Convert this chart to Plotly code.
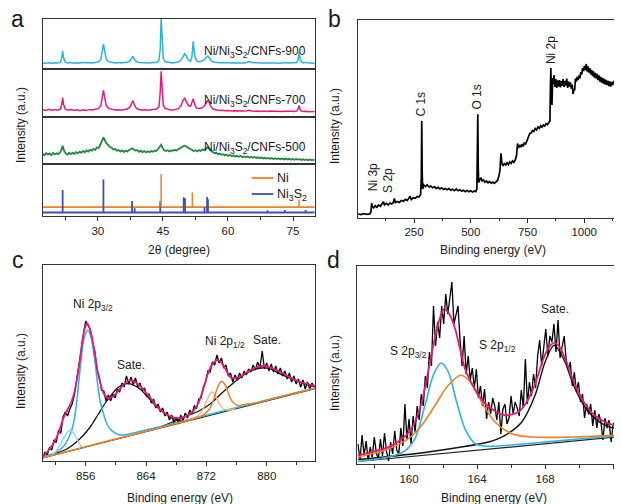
import plotly.graph_objects as go

# The page body has an 8 px margin, so the figure is 8 px smaller and every
# reference pixel position is shifted by that margin.
OFF = 8
W, H = 622 - OFF, 504 - OFF
def X(px): return (px - OFF) / W
def Y(py): return 1 - (py - OFF) / H

FONT = "Liberation Sans, Arial, sans-serif"
FRAME = "#333333"
TXT = "#1a1a1a"
CYAN = "#2DB3E2"
PINK = "#E8197D"
GREEN = "#1F8A3E"
ORANGE = "#F28022"
BLUE = "#3E4FB5"
LCYAN = "#94D3EE"
LORANGE = "#F6B77D"

# ---------------- panel a : XRD ----------------
two_theta = [
    17.3, 18.0, 18.7, 19.4, 20.1, 20.8, 21.4, 21.7, 21.9, 22.1,
    22.5, 23.1, 23.8, 24.5, 25.2, 25.9, 26.6, 27.3, 28.0, 28.7,
    29.4, 30.1, 30.7, 31.0, 31.3, 31.6, 32.0, 32.6, 33.3, 34.0,
    34.7, 35.4, 36.1, 36.8, 37.4, 37.8, 38.1, 38.4, 38.9, 39.5,
    40.2, 40.9, 41.6, 42.3, 43.0, 43.6, 44.1, 44.4, 44.6, 44.8,
    45.1, 45.5, 46.0, 46.6, 47.2, 47.9, 48.6, 49.2, 49.6, 50.0,
    50.4, 50.9, 51.4, 51.7, 52.0, 52.3, 52.7, 53.2, 53.7, 54.2,
    54.7, 55.1, 55.4, 55.7, 56.1, 56.6, 57.3, 58.0, 58.7, 59.4,
    60.1, 60.8, 61.5, 62.2, 62.9, 63.6, 64.3, 64.9, 65.5, 66.2,
    66.9, 67.6, 68.3, 69.0, 69.7, 70.4, 71.1, 71.8, 72.5, 73.2,
    73.9, 74.6, 75.3, 75.9, 76.2, 76.4, 76.6, 76.9, 77.4, 77.9,
    78.5, 79.2, 80.0]
xrd_900 = [
    5.6, 5.2, 5.8, 5.3, 5.7, 5.4, 6.4, 10.5, 17.3, 11.0,
    6.3, 5.5, 5.9, 5.3, 5.8, 5.4, 5.9, 5.5, 5.8, 5.6,
    6.0, 6.5, 9.0, 16.5, 24.7, 17.0, 9.0, 6.8, 6.0, 5.6,
    5.9, 5.5, 5.9, 6.2, 7.5, 10.5, 12.3, 9.5, 6.8, 6.0,
    5.7, 5.9, 5.5, 5.8, 5.7, 6.3, 8.0, 20.0, 50.0, 30.0,
    10.0, 7.0, 6.2, 5.9, 5.6, 6.0, 6.5, 8.5, 12.5, 14.7,
    12.5, 8.5, 7.2, 12.0, 27.3, 14.0, 7.8, 6.8, 7.0, 7.8,
    9.2, 11.8, 12.3, 10.8, 8.0, 6.5, 6.0, 5.7, 5.9, 5.5,
    5.8, 5.4, 5.7, 5.5, 5.8, 5.6, 6.0, 7.0, 6.0, 5.5,
    5.7, 5.4, 5.6, 5.9, 5.5, 5.4, 5.7, 5.3, 5.5, 5.9,
    5.4, 5.5, 5.2, 6.0, 10.0, 15.7, 10.5, 6.5, 5.6, 6.2,
    5.4, 5.6, 5.3]
xrd_700 = [
    6.5, 5.6, 6.8, 5.9, 6.6, 6.0, 7.2, 12.0, 18.7, 12.0,
    7.0, 6.2, 6.6, 5.8, 6.4, 5.5, 6.3, 5.7, 6.5, 6.1,
    6.8, 7.3, 10.5, 19.0, 26.3, 18.5, 10.0, 7.5, 6.6, 6.1,
    6.5, 5.9, 6.6, 7.2, 9.0, 13.5, 15.7, 12.0, 7.8, 6.6,
    6.1, 6.5, 5.9, 6.4, 6.6, 7.2, 9.5, 25.0, 45.7, 28.0,
    11.0, 7.8, 6.8, 6.3, 6.0, 6.6, 7.5, 10.5, 15.5, 18.0,
    15.0, 10.5, 10.0, 14.5, 17.7, 12.5, 8.5, 7.6, 7.8, 9.0,
    11.0, 14.5, 15.7, 13.5, 9.5, 7.2, 6.2, 5.6, 5.9, 5.3,
    5.6, 5.0, 5.4, 5.1, 5.5, 5.0, 5.4, 5.9, 5.2, 4.8,
    5.2, 4.7, 5.1, 4.6, 5.0, 4.8, 4.5, 5.0, 4.6, 4.9,
    4.5, 4.8, 4.6, 5.2, 7.5, 10.7, 7.0, 5.0, 4.6, 4.9,
    4.4, 4.7, 4.5]
two_theta_500 = [
    17.3, 17.7, 18.1, 18.5, 18.9, 19.3, 19.7, 20.1, 20.5, 20.9,
    21.3, 21.6, 21.9, 22.2, 22.6, 23.0, 23.4, 23.8, 24.2, 24.6,
    25.0, 25.4, 25.8, 26.2, 26.6, 27.0, 27.4, 27.8, 28.2, 28.6,
    29.0, 29.4, 29.8, 30.2, 30.6, 31.0, 31.3, 31.6, 32.0, 32.4,
    32.8, 33.2, 33.6, 34.0, 34.4, 34.8, 35.2, 35.6, 36.0, 36.4,
    36.8, 37.2, 37.6, 38.0, 38.3, 38.7, 39.1, 39.5, 39.9, 40.3,
    40.7, 41.1, 41.5, 41.9, 42.3, 42.7, 43.1, 43.5, 43.9, 44.3,
    44.6, 44.9, 45.3, 45.7, 46.1, 46.5, 46.9, 47.3, 47.7, 48.1,
    48.5, 48.9, 49.3, 49.7, 50.1, 50.5, 50.9, 51.3, 51.7, 52.1,
    52.5, 52.9, 53.3, 53.7, 54.1, 54.5, 54.9, 55.3, 55.7, 56.1,
    56.5, 56.9, 57.3, 57.7, 58.1, 58.5, 58.9, 59.3, 59.7, 60.1,
    60.5, 60.9, 61.3, 61.7, 62.1, 62.5, 62.9, 63.3, 63.7, 64.1,
    64.5, 64.9, 65.3, 65.7, 66.1, 66.5, 66.9, 67.3, 67.7, 68.1,
    68.5, 68.9, 69.3, 69.7, 70.1, 70.5, 70.9, 71.3, 71.7, 72.1,
    72.5, 72.9, 73.3, 73.7, 74.1, 74.5, 74.9, 75.3, 75.7, 76.1,
    76.5, 76.9, 77.3, 77.7, 78.1, 78.5, 78.9, 79.3, 79.7, 80.0]
xrd_500 = [
    10.2, 8.8, 11.0, 9.4, 10.6, 8.9, 11.2, 9.6, 10.8, 9.9,
    11.5, 14.0, 18.3, 13.5, 10.6, 9.5, 11.3, 9.8, 11.1, 10.2,
    11.8, 10.6, 12.3, 11.2, 13.0, 11.8, 13.6, 12.4, 14.2, 13.4,
    15.0, 14.2, 16.5, 16.0, 19.5, 23.5, 26.7, 24.0, 20.5, 19.0,
    17.0, 16.2, 14.5, 15.2, 13.3, 14.0, 12.4, 13.6, 12.0, 13.2,
    12.6, 14.0, 14.8, 15.7, 14.6, 13.5, 13.8, 12.2, 13.3, 11.9,
    12.9, 11.6, 12.8, 11.8, 13.0, 12.2, 13.4, 13.0, 15.0, 17.5,
    19.3, 16.5, 13.8, 13.0, 13.8, 12.6, 13.6, 13.2, 14.2, 13.5,
    14.8, 15.4, 16.8, 17.8, 18.3, 17.2, 16.4, 15.0, 14.2, 13.0,
    13.8, 12.6, 13.9, 13.0, 14.4, 14.0, 15.2, 16.7, 15.0, 13.2,
    12.0, 10.9, 11.2, 9.8, 10.4, 9.2, 9.8, 8.7, 9.3, 8.3,
    8.9, 7.8, 8.6, 7.5, 8.2, 7.2, 8.0, 7.0, 7.6, 6.8,
    7.5, 6.5, 7.3, 6.3, 7.0, 6.1, 6.7, 5.8, 6.5, 5.6,
    6.3, 5.4, 6.1, 5.2, 5.9, 5.0, 5.8, 4.9, 5.6, 4.7,
    5.5, 4.6, 5.4, 4.5, 5.2, 4.3, 5.1, 4.2, 5.0, 4.4,
    4.9, 4.1, 4.8, 3.9, 4.6, 3.8, 4.5, 3.7, 4.3, 3.6]
ni_pos = [44.6, 51.8, 76.4]
ni_int = [42.0, 23.5, 16.5]
ni_base = 8.9
ni3s2_pos = [21.9, 31.3, 37.9, 38.5, 44.4, 49.8, 50.1, 54.6, 55.2, 55.4, 69.1, 73.1, 77.9]
ni3s2_int = [26.0, 36.5, 15.0, 7.7, 14.7, 18.7, 17.7, 8.7, 19.0, 16.7, 5.7, 6.0, 6.0]
ni3s2_base = 3.6

# ---------------- panel b : XPS survey ----------------
survey_be = [
    3, 15, 28, 42, 55, 60, 63, 67, 72, 79,
    86, 94, 102, 110, 115, 120, 128, 136, 144, 152,
    159, 163, 168, 176, 185, 194, 203, 212, 220, 228,
    232, 238, 246, 255, 264, 272, 279, 282, 284, 286,
    288, 293, 300, 308, 316, 324, 332, 340, 348, 356,
    364, 372, 380, 388, 396, 404, 412, 420, 428, 436,
    444, 452, 460, 468, 476, 484, 492, 500, 508, 516,
    522, 527, 529, 531, 533, 535, 540, 545, 550, 556,
    562, 569, 576, 583, 590, 597, 604, 611, 618, 624,
    629, 633, 637, 642, 648, 654, 660, 666, 672, 678,
    684, 690, 697, 702, 706, 711, 716, 721, 726, 731,
    736, 742, 748, 754, 760, 766, 772, 778, 784, 790,
    796, 802, 808, 814, 820, 826, 832, 838, 844, 849,
    851, 853, 855, 858, 861, 864, 867, 871, 875, 879,
    883, 887, 891, 895, 899, 903, 907, 911, 915, 919,
    923, 927, 931, 935, 939, 943, 947, 951, 955, 958,
    961, 965, 969, 973, 977, 981, 985, 989, 993, 997,
    1001, 1005, 1009, 1013, 1017, 1021, 1025, 1029, 1033, 1037,
    1041, 1045, 1049, 1053, 1057, 1061, 1065, 1069, 1073, 1077,
    1081, 1085, 1089, 1093, 1097, 1101, 1105, 1109, 1113, 1117,
    1121, 1126, 1131, 1136, 1141, 1146, 1151, 1156, 1161, 1166]
survey_int = [
    4.0, 3.4, 4.3, 3.6, 4.1, 6.0, 14.8, 11.0, 10.2, 12.2,
    10.8, 13.0, 11.8, 14.2, 16.2, 13.2, 14.6, 13.0, 15.0, 14.0,
    15.6, 19.5, 15.4, 16.6, 15.6, 17.6, 16.8, 18.6, 17.6, 20.0,
    21.8, 18.4, 20.2, 19.6, 21.6, 21.0, 23.5, 40.0, 97.0, 45.0,
    29.0, 33.0, 31.4, 33.2, 31.0, 32.0, 30.2, 31.2, 29.6, 30.6,
    29.0, 30.2, 28.6, 29.6, 28.2, 29.4, 27.8, 28.8, 27.4, 29.0,
    27.2, 28.2, 26.8, 27.8, 26.4, 27.6, 26.2, 27.2, 26.0, 27.0,
    26.4, 29.0, 80.0, 103.7, 50.0, 35.5, 38.5, 40.2, 37.0, 38.0,
    35.8, 37.0, 35.2, 36.4, 34.8, 36.0, 34.6, 35.8, 37.5, 42.0,
    48.0, 64.7, 55.0, 52.0, 54.8, 52.6, 55.2, 53.4, 56.0, 54.6,
    57.0, 55.6, 58.5, 63.0, 74.5, 70.0, 73.0, 70.8, 74.0, 71.6,
    75.0, 74.0, 77.5, 80.0, 84.5, 85.0, 87.5, 86.5, 89.5, 88.0,
    91.0, 89.6, 92.2, 90.8, 93.0, 92.0, 94.4, 93.2, 95.2, 97.0,
    130.0, 150.0, 128.0, 113.0, 140.0, 134.0, 143.0, 131.0, 139.0, 130.0,
    137.5, 131.5, 138.0, 130.5, 137.0, 132.0, 139.0, 131.0, 137.0, 132.5,
    139.5, 130.0, 136.5, 131.5, 135.5, 129.5, 133.5, 124.0, 129.0, 127.5,
    139.5, 136.5, 141.0, 138.0, 142.5, 139.5, 146.0, 143.5, 150.0, 147.0,
    152.0, 148.0, 154.0, 146.5, 151.5, 145.5, 150.0, 143.5, 148.0, 142.0,
    146.5, 140.5, 145.0, 139.5, 144.0, 138.0, 142.5, 136.5, 141.0, 135.5,
    140.0, 134.5, 139.0, 133.5, 138.0, 133.0, 137.0, 132.0, 136.5, 131.5,
    136.0, 133.0, 137.0, 134.0, 138.5, 135.0, 139.0, 135.5, 139.5, 137.0]
survey_labels = ["Ni 3p", "S 2p", "C 1s", "O 1s", "Ni 2p"]
survey_label_be = [68, 135, 279, 528, 854]
survey_label_y = [40.5, 38.0, 114.0, 120.5, 168.0]

# ---------------- panel c : Ni 2p ----------------
ni2p_be = [
    850.3, 850.6, 850.9, 851.2, 851.5, 851.8, 852.1, 852.4, 852.7, 853.0,
    853.3, 853.6, 853.9, 854.2, 854.5, 854.8, 855.1, 855.4, 855.7, 856.0,
    856.3, 856.6, 856.9, 857.2, 857.5, 857.8, 858.1, 858.4, 858.7, 859.0,
    859.3, 859.6, 859.9, 860.2, 860.5, 860.8, 861.1, 861.4, 861.7, 862.0,
    862.3, 862.6, 862.9, 863.2, 863.5, 863.8, 864.1, 864.4, 864.7, 865.0,
    865.3, 865.6, 865.9, 866.2, 866.5, 866.8, 867.1, 867.4, 867.7, 868.0,
    868.3, 868.6, 868.9, 869.2, 869.5, 869.8, 870.1, 870.4, 870.7, 871.0,
    871.3, 871.6, 871.9, 872.2, 872.5, 872.8, 873.1, 873.4, 873.7, 874.0,
    874.3, 874.6, 874.9, 875.2, 875.5, 875.8, 876.1, 876.4, 876.7, 877.0,
    877.3, 877.6, 877.9, 878.2, 878.5, 878.8, 879.1, 879.4, 879.7, 880.0,
    880.3, 880.6, 880.9, 881.2, 881.5, 881.8, 882.1, 882.4, 882.7, 883.0,
    883.3, 883.6, 883.9, 884.2, 884.5, 884.8, 885.1, 885.4, 885.7, 886.0,
    886.3]
ni2p_int = [
    3.5, 8.5, 6.0, 13.5, 11.0, 21.0, 18.5, 31.0, 27.5, 44.0,
    49.0, 45.0, 52.0, 57.0, 66.0, 80.0, 93.0, 111.0, 127.0, 140.0,
    136.0, 132.0, 118.0, 110.0, 90.0, 84.0, 71.0, 70.0, 60.0, 66.0,
    60.0, 67.0, 63.0, 72.0, 69.0, 78.0, 74.0, 85.0, 77.0, 84.0,
    76.0, 83.0, 74.0, 78.0, 70.0, 73.0, 64.0, 67.0, 58.0, 62.0,
    53.0, 57.0, 49.0, 53.0, 45.0, 49.0, 41.0, 46.0, 38.0, 44.0,
    37.0, 46.0, 40.0, 48.0, 43.0, 51.0, 47.0, 55.0, 53.0, 62.0,
    63.0, 74.0, 79.0, 90.0, 89.0, 99.0, 96.0, 106.0, 98.0, 103.0,
    93.0, 96.0, 85.0, 88.0, 79.0, 86.0, 81.0, 88.0, 83.0, 90.0,
    86.0, 92.0, 89.0, 96.0, 91.0, 99.0, 93.0, 110.0, 92.0, 98.0,
    90.0, 97.0, 89.0, 95.0, 87.0, 93.0, 85.0, 90.0, 82.0, 88.0,
    79.0, 85.0, 77.0, 82.0, 74.0, 81.0, 72.0, 79.0, 72.0, 78.0,
    74.0]
ni2p_fit_be = [
    850.3, 851.0, 851.7, 852.4, 853.0, 853.5, 854.1, 854.6, 855.0, 855.3,
    855.6, 855.9, 856.2, 856.5, 856.8, 857.0, 857.3, 857.6, 858.0, 858.3,
    858.7, 859.0, 859.4, 859.8, 860.3, 860.9, 861.4, 861.8, 862.2, 862.7,
    863.4, 864.1, 864.8, 865.4, 866.1, 866.8, 867.5, 868.1, 868.8, 869.4,
    870.0, 870.5, 871.0, 871.6, 872.1, 872.7, 873.2, 873.6, 874.0, 874.5,
    874.9, 875.3, 875.8, 876.4, 877.1, 877.8, 878.6, 879.3, 880.1, 880.9,
    881.8, 882.6, 883.5, 884.4, 885.4, 886.4]
ni2p_fit = [
    4.0, 10.0, 17.3, 28.0, 42.0, 50.0, 59.0, 72.0, 89.0, 105.0,
    122.0, 133.0, 137.5, 133.0, 125.0, 117.0, 103.0, 89.0, 76.0, 69.0,
    64.5, 63.0, 63.5, 65.7, 70.0, 75.7, 79.0, 80.7, 80.3, 78.3,
    73.5, 67.3, 61.0, 55.0, 50.0, 46.3, 44.0, 43.0, 43.5, 45.0,
    48.0, 52.3, 59.0, 72.3, 85.0, 95.7, 100.0, 100.7, 98.0, 92.3,
    87.0, 83.0, 83.0, 84.0, 87.5, 90.7, 93.5, 95.0, 94.5, 92.3,
    89.0, 85.7, 82.0, 79.0, 77.0, 75.0]
ni2p_bg_be = [850.3, 886.4]
ni2p_bg = [3.0, 72.3]
ni2p32_be = [850.3, 852.0, 853.0, 853.9, 854.5, 854.8, 855.1, 855.4, 855.8, 856.3,
             856.7, 857.0, 857.3, 857.6, 857.9, 858.3, 858.7, 859.2, 860.0, 860.5,
             861.5, 863.0, 866.0, 870.0, 875.0, 880.0, 886.4]
ni2p32 = [4.0, 8.5, 14.0, 25.7, 42.0, 59.0, 80.0, 102.0, 123.0, 130.7,
          124.0, 112.0, 95.0, 75.7, 60.0, 49.0, 39.0, 32.3, 27.5, 26.0,
          26.5, 29.2, 34.6, 42.0, 51.5, 61.0, 73.0]
ni2p32b_be = [851.5, 852.2, 852.8, 853.3, 853.9, 854.5, 855.0, 855.5, 855.9]
ni2p32b = [5.8, 11.0, 19.0, 26.0, 30.7, 27.0, 19.5, 14.0, 13.0]
ni2p_sat1_be = [850.3, 852.0, 853.5, 855.0, 856.5, 857.6, 858.7, 859.4, 860.1, 860.8,
                861.6, 862.3, 863.2, 864.1, 865.0, 865.9, 866.8, 867.6, 868.5, 869.5]
ni2p_sat1 = [3.6, 7.5, 12.0, 20.5, 33.0, 46.0, 59.0, 66.0, 72.3, 76.0,
             77.3, 76.0, 72.0, 65.0, 57.5, 51.0, 46.0, 42.5, 40.3, 40.5]
ni2p_sat2_be = [864.0, 866.0, 868.0, 869.5, 871.0, 872.5, 874.2, 875.5, 876.9, 878.0,
                879.3, 880.5, 881.7, 883.0, 884.4, 885.5, 886.4]
ni2p_sat2 = [29.5, 34.5, 40.5, 45.5, 50.0, 57.0, 69.0, 77.5, 85.7, 90.5,
             93.0, 92.0, 87.3, 83.0, 79.0, 76.0, 74.2]
ni2p12a_be = [869.6, 870.4, 871.1, 871.7, 872.2, 872.7, 873.2, 873.7, 874.3, 875.0, 875.8]
ni2p12a = [40.5, 43.0, 47.0, 54.0, 63.0, 69.0, 65.0, 57.5, 52.0, 51.0, 52.0]
ni2p12b_be = [850.3, 858.0, 866.0, 870.0, 871.6, 872.4, 873.0, 873.5, 874.0, 874.5,
              875.1, 875.6, 876.2, 877.0, 878.5, 881.0, 886.4]
ni2p12b = [3.3, 18.2, 33.6, 41.5, 46.0, 52.0, 62.0, 74.0, 79.7, 76.0,
           64.0, 58.0, 55.5, 56.5, 58.0, 62.8, 72.8]

# ---------------- panel d : S 2p ----------------
s2p_be = [
    157.00, 157.12, 157.24, 157.36, 157.48, 157.60, 157.72, 157.84, 157.96, 158.08,
    158.20, 158.32, 158.44, 158.56, 158.68, 158.80, 158.92, 159.04, 159.16, 159.28,
    159.40, 159.52, 159.64, 159.76, 159.88, 160.00, 160.12, 160.24, 160.36, 160.48,
    160.60, 160.72, 160.84, 160.96, 161.08, 161.20, 161.32, 161.44, 161.56, 161.68,
    161.80, 161.92, 162.04, 162.16, 162.28, 162.40, 162.52, 162.64, 162.76, 162.88,
    163.00, 163.12, 163.24, 163.36, 163.48, 163.60, 163.72, 163.84, 163.96, 164.08,
    164.20, 164.32, 164.44, 164.56, 164.68, 164.80, 164.92, 165.04, 165.16, 165.28,
    165.40, 165.52, 165.64, 165.76, 165.88, 166.00, 166.12, 166.24, 166.36, 166.48,
    166.60, 166.72, 166.84, 166.96, 167.08, 167.20, 167.32, 167.44, 167.56, 167.68,
    167.80, 167.92, 168.04, 168.16, 168.28, 168.40, 168.52, 168.64, 168.76, 168.88,
    169.00, 169.12, 169.24, 169.36, 169.48, 169.60, 169.72, 169.84, 169.96, 170.08,
    170.20, 170.32, 170.44, 170.56, 170.68, 170.80, 170.92, 171.04, 171.16, 171.28,
    171.40, 171.52, 171.64, 171.76, 171.88, 172.00, 172.12, 172.24, 172.36, 172.48]
s2p_int = [
    20, 4, 29, 9, 23, 3, 17, 7, 27, 11,
    5, 25, 8, 31, 12, 3, 22, 10, 33, 14,
    10, 36, 18, 60, 24, 45, 20, 48, 32, 58,
    44, 70, 58, 88, 76, 112, 98, 158, 118, 142,
    126, 158, 140, 170, 150, 164, 182, 140, 150, 158,
    124, 98, 128, 90, 108, 84, 96, 76, 95, 66,
    78, 58, 75, 45, 62, 50, 66, 58, 44, 62,
    30, 55, 60, 40, 46, 68, 50, 62, 56, 48,
    74, 56, 105, 60, 82, 68, 90, 76, 108, 124,
    98, 116, 135, 108, 128, 122, 140, 112, 144, 106,
    116, 128, 104, 94, 102, 78, 92, 72, 82, 62,
    70, 46, 60, 50, 60, 38, 54, 36, 50, 42,
    24, 46, 36, 44, 22, 40, 42, 21, 34, 36]
s2p_fit_be = [157.0, 158.0, 158.8, 159.5, 160.0, 160.4, 160.75, 161.1, 161.43, 161.8,
              162.08, 162.4, 162.71, 163.0, 163.29, 163.7, 164.08, 164.5, 164.86, 165.25,
              165.65, 166.0, 166.43, 166.8, 167.22, 167.55, 167.9, 168.2, 168.53, 168.85,
              169.18, 169.5, 169.86, 170.2, 170.55, 171.0, 171.53, 172.0, 172.5]
s2p_fit = [8.7, 13.0, 17.0, 24.0, 32.0, 44.0, 62.0, 90.0, 118.7, 145.0,
           155.3, 149.0, 135.3, 115.0, 95.3, 80.0, 68.7, 60.0, 55.3, 51.0,
           48.7, 49.3, 52.0, 59.0, 72.0, 87.0, 105.3, 116.0, 121.3, 117.0,
           105.3, 90.0, 75.3, 64.0, 55.3, 47.5, 42.0, 39.0, 37.0]
s2p_bg_be = [157.0, 172.5]
s2p_bg = [2.5, 27.5]
s2p32_be = [157.0, 158.8, 159.8, 160.35, 160.94, 161.43, 161.88, 162.31, 162.8, 163.29,
            163.88, 164.67, 166.0, 168.0, 170.0, 172.5]
s2p32 = [2.5, 7.0, 13.7, 25.3, 58.7, 88.7, 101.0, 92.0, 62.0, 35.3,
         20.3, 17.7, 19.0, 22.0, 25.0, 28.5]
s2p12_be = [157.0, 158.8, 159.96, 160.75, 161.53, 162.31, 163.06, 163.69, 164.27, 165.06,
            166.04, 167.22, 169.6, 172.5]
s2p12 = [7.0, 15.3, 25.3, 38.7, 58.7, 78.7, 88.7, 80.3, 62.0, 42.0,
         30.3, 27.0, 27.0, 29.0]
s2p_sat_be = [157.0, 160.7, 162.7, 164.67, 165.65, 166.63, 167.41, 168.0, 168.53, 169.08,
              169.76, 170.55, 171.53, 172.5]
s2p_sat = [4.5, 11.0, 16.0, 22.0, 28.7, 42.0, 68.7, 102.0, 118.7, 105.3,
           75.3, 52.0, 38.7, 34.5]

for a_, b_ in [(two_theta, xrd_900), (two_theta, xrd_700), (two_theta_500, xrd_500),
               (survey_be, survey_int), (ni2p_be, ni2p_int), (s2p_be, s2p_int),
               (ni2p_fit_be, ni2p_fit), (s2p_fit_be, s2p_fit)]:
    assert len(a_) == len(b_), (len(a_), len(b_))

# ---------------- figure ----------------
fig = go.Figure()

def line(x, y, ax, color, width=1.4, spline=False):
    fig.add_trace(go.Scatter(
        x=x, y=y, xaxis="x" + ax, yaxis="y" + ax, mode="lines",
        line=dict(color=color, width=width, shape="spline" if spline else "linear",
                  smoothing=0.9 if spline else None),
        hoverinfo="skip", showlegend=False))

# panel a
line(two_theta, xrd_900, "", CYAN, 1.5)
line(two_theta, xrd_700, "2", PINK, 1.5)
line(two_theta_500, xrd_500, "3", GREEN, 1.8)
line([two_theta[0], two_theta[-1]], [ni_base, ni_base], "4", ORANGE, 1.8)
line([two_theta[0], two_theta[-1]], [ni3s2_base, ni3s2_base], "4", BLUE, 2.0)
sx, sy = [], []
for p, h in zip(ni3s2_pos, ni3s2_int):
    sx += [p, p, None]; sy += [ni3s2_base, h, None]
line(sx, sy, "4", BLUE, 1.8)
sx, sy = [], []
for p, h in zip(ni_pos, ni_int):
    sx += [p, p, None]; sy += [ni_base, h, None]
line(sx, sy, "4", ORANGE, 1.5)

# panel b
line(survey_be, survey_int, "5", "#000000", 1.7)

# panel c
line(ni2p_be, ni2p_int, "6", "#000000", 1.3)
line(ni2p_bg_be, ni2p_bg, "6", "#222222", 1.2)
line(ni2p_sat1_be, ni2p_sat1, "6", "#111111", 1.3, True)
line(ni2p_sat2_be, ni2p_sat2, "6", "#111111", 1.3, True)
line(ni2p32_be, ni2p32, "6", CYAN, 1.5, True)
line(ni2p32b_be, ni2p32b, "6", LCYAN, 1.4, True)
line(ni2p12a_be, ni2p12a, "6", LORANGE, 1.4, True)
line(ni2p12b_be, ni2p12b, "6", ORANGE, 1.5, True)
line(ni2p_fit_be, ni2p_fit, "6", PINK, 1.8, True)

# panel d
line(s2p_be, s2p_int, "7", "#000000", 1.3)
line(s2p_bg_be, s2p_bg, "7", "#222222", 1.2)
line(s2p_sat_be, s2p_sat, "7", "#111111", 1.4, True)
line(s2p32_be, s2p32, "7", CYAN, 1.6, True)
line(s2p12_be, s2p12, "7", ORANGE, 1.6, True)
line(s2p_fit_be, s2p_fit, "7", PINK, 1.8, True)

# ---------------- layout ----------------
base_ax = dict(showgrid=False, zeroline=False, showline=True, linecolor=FRAME,
               linewidth=1.3, mirror=True, fixedrange=True)
tickfont = dict(family=FONT, size=11.5, color=TXT)

def xax(domain, rng, anchor, dtick=None, minor=None, labels=False):
    d = dict(base_ax, domain=domain, range=rng, anchor=anchor)
    if labels:
        d.update(ticks="outside", ticklen=4, tickwidth=1.2, tickcolor=FRAME,
                 tick0=0, dtick=dtick, tickfont=tickfont,
                 minor=dict(ticks="outside", ticklen=2.5, tickwidth=1, tickcolor=FRAME,
                            tick0=0, dtick=minor))
    else:
        d.update(ticks="", showticklabels=False)
    return d

def yax(domain, rng, anchor, mirror=True):
    return dict(base_ax, domain=domain, range=rng, anchor=anchor, ticks="",
                showticklabels=False, mirror=mirror)

ax_a = [X(42.7), X(314.7)]
layout = dict(
    width=W, height=H, margin=dict(l=0, r=0, t=0, b=0),
    paper_bgcolor="white", plot_bgcolor="white", showlegend=False,
    font=dict(family=FONT, color=TXT),
    xaxis=xax(ax_a, [17.3, 80], "y"),
    yaxis=yax([Y(68.5), Y(19)], [0, 49.5], "x"),
    xaxis2=xax(ax_a, [17.3, 80], "y2"),
    yaxis2=yax([Y(116.5), Y(68.5)], [-0.5, 48.5], "x2"),
    xaxis3=xax(ax_a, [17.3, 80], "y3"),
    yaxis3=yax([Y(164), Y(116.5)], [0, 47.5], "x3"),
    xaxis4=xax(ax_a, [17.3, 80], "y4", 15, 7.5, True),
    yaxis4=yax([Y(216), Y(164)], [0, 52], "x4"),
    xaxis5=xax([X(358), 1.0], [3, 1166.6], "y5", 250, 125, True),
    yaxis5=yax([Y(217.5), Y(20)], [0.5, 198], "x5", mirror=False),
    xaxis6=xax([X(42.7), X(315)], [850.3, 886.4], "y6", 8, 4, True),
    yaxis6=yax([Y(461.3), Y(265.3)], [-0.3, 195.7], "x6"),
    xaxis7=xax([X(357.3), 1.0], [156.96, 172.52], "y7", 4, 2, True),
    yaxis7=yax([Y(464), Y(266)], [0, 198], "x7", mirror=False),
)

ann = []
def txt(px, py, s, size=12, xanchor="center", angle=0, yanchor="middle"):
    ann.append(dict(x=X(px), y=Y(py), xref="paper", yref="paper", text=s,
                    showarrow=False, xanchor=xanchor, yanchor=yanchor, textangle=angle,
                    font=dict(family=FONT, size=size, color=TXT)))

# panel letters
txt(17.5, 19, "a", 23)
txt(334, 19, "b", 23)
txt(17.5, 259.5, "c", 23)
txt(333, 259.5, "d", 23)

# axis titles
txt(179, 250, "2θ (degree)")
txt(493, 250, "Binding energy (eV)")
txt(179.5, 498, "Binding energy (eV)")
txt(494, 498, "Binding energy (eV)")
txt(21, 125, "Intensity (a.u.)", angle=-90)
txt(335, 126, "Intensity (a.u.)", angle=-90)
txt(21, 371, "Intensity (a.u.)", angle=-90)
txt(335, 373, "Intensity (a.u.)", angle=-90)

# panel a labels
txt(308, 52, "Ni/Ni<sub>3</sub>S<sub>2</sub>/CNFs-900", 12, "right")
txt(308, 100.5, "Ni/Ni<sub>3</sub>S<sub>2</sub>/CNFs-700", 12, "right")
txt(308, 148, "Ni/Ni<sub>3</sub>S<sub>2</sub>/CNFs-500", 12, "right")
txt(275, 178, "Ni", 12.5, "left")
txt(275, 195, "Ni<sub>3</sub>S<sub>2</sub>", 12.5, "left")

# panel b labels (rotated), positioned in data coordinates of axis 5
for lab, be, yy in zip(survey_labels, survey_label_be, survey_label_y):
    ann.append(dict(x=be, y=yy, xref="x5", yref="y5", text=lab, showarrow=False,
                    textangle=-90, xanchor="center", yanchor="middle",
                    font=dict(family=FONT, size=12, color=TXT)))

# panel c labels
txt(93, 305, "Ni 2p<sub>3/2</sub>")
txt(130.7, 364.5, "Sate.")
txt(225, 341.5, "Ni 2p<sub>1/2</sub>")
txt(267.3, 339.5, "Sate.")
# panel d labels
txt(408, 352, "S 2p<sub>3/2</sub>")
txt(497, 345.5, "S 2p<sub>1/2</sub>")
txt(555, 308.5, "Sate.")

layout["annotations"] = ann
layout["shapes"] = [
    dict(type="line", xref="paper", yref="paper", x0=X(251.7), x1=X(273.3),
         y0=Y(178), y1=Y(178), line=dict(color=ORANGE, width=1.8)),
    dict(type="line", xref="paper", yref="paper", x0=X(251.7), x1=X(273.3),
         y0=Y(194), y1=Y(194), line=dict(color=BLUE, width=1.8)),
]
fig.update_layout(**layout)
fig.write_html("out.html")
